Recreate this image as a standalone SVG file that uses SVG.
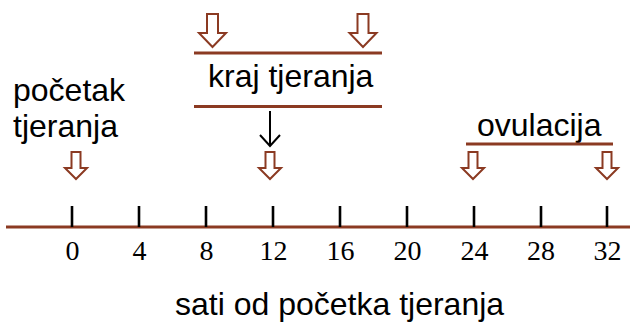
<svg xmlns="http://www.w3.org/2000/svg" width="630" height="322" viewBox="0 0 630 322">
<style>
.lbl{font-family:"Liberation Sans",Arial,sans-serif;font-size:32px;fill:#000}
.num{font-family:"Liberation Serif","Times New Roman",serif;font-size:28px;fill:#000;text-anchor:middle}
.br{stroke:#8B3A22;stroke-width:3;fill:none}
.tick{stroke:#000;stroke-width:2.6}
.hol{fill:#fff;stroke:#8B3A22;stroke-width:2}
</style>
<defs>
<path id="sa" class="hol" d="M-4.5,0 H4.5 V16 H11 L0,27 L-11,16 H-4.5 Z"/>
<path id="la" class="hol" d="M-5.5,0 H5.5 V19 H13.5 L0,33 L-13.5,19 H-5.5 Z"/>
</defs>
<rect width="630" height="322" fill="#fff"/>
<g id="axis">
<line class="br" x1="6" y1="227" x2="630" y2="227" stroke-width="2.5"/>
<g id="ticks">
<line class="tick" x1="72" y1="206" x2="72" y2="227"/>
<line class="tick" x1="139" y1="206" x2="139" y2="227"/>
<line class="tick" x1="206" y1="206" x2="206" y2="227"/>
<line class="tick" x1="273" y1="206" x2="273" y2="227"/>
<line class="tick" x1="340" y1="206" x2="340" y2="227"/>
<line class="tick" x1="407" y1="206" x2="407" y2="227"/>
<line class="tick" x1="474" y1="206" x2="474" y2="227"/>
<line class="tick" x1="541" y1="206" x2="541" y2="227"/>
<line class="tick" x1="607" y1="206" x2="607" y2="227"/>
</g>
<g id="numbers">
<text class="num" x="72.5" y="260">0</text>
<text class="num" x="139.5" y="260">4</text>
<text class="num" x="206.5" y="260">8</text>
<text class="num" x="273.5" y="260">12</text>
<text class="num" x="340.5" y="260">16</text>
<text class="num" x="407.5" y="260">20</text>
<text class="num" x="474.5" y="260">24</text>
<text class="num" x="541" y="260">28</text>
<text class="num" x="607.5" y="260">32</text>
</g>
<text id="axis-title" class="lbl" x="175" y="315">sati od početka tjeranja</text>
</g>
<g id="start">
<text class="lbl" x="13" y="101">početak</text>
<text class="lbl" x="13" y="137">tjeranja</text>
<use href="#sa" x="76" y="152"/>
</g>
<g id="end">
<use href="#la" x="212.5" y="14"/>
<use href="#la" x="363" y="14"/>
<line class="br" x1="194" y1="53" x2="382" y2="53"/>
<text class="lbl" x="208" y="87">kraj tjeranja</text>
<line class="br" x1="194" y1="106.5" x2="382" y2="106.5"/>
</g>
<g id="connectors">
<line x1="270" y1="111" x2="270" y2="145" stroke="#000" stroke-width="2"/>
<polyline points="260,135 270,146 280,135" fill="none" stroke="#000" stroke-width="2"/>
</g>
<g id="h12">
<use href="#sa" x="270" y="152"/>
</g>
<g id="ovulation">
<text class="lbl" x="477" y="136">ovulacija</text>
<line class="br" x1="466" y1="144" x2="613" y2="144"/>
<use href="#sa" x="473" y="152"/>
<use href="#sa" x="607" y="152"/>
</g>
</svg>
